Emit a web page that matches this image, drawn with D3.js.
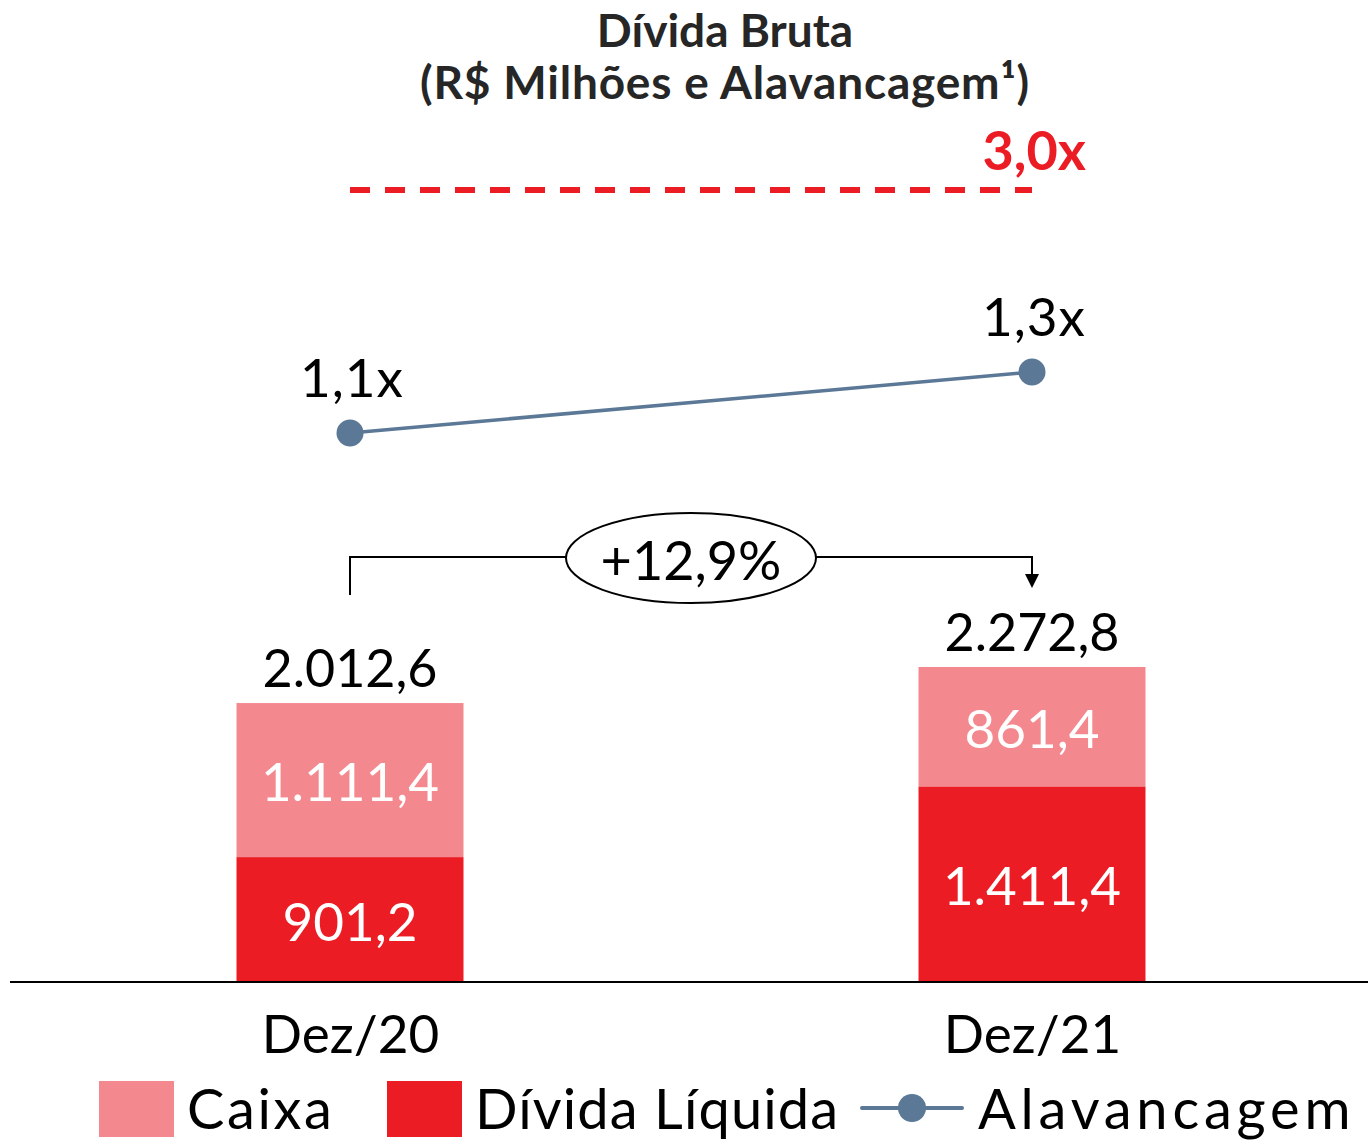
<!DOCTYPE html>
<html>
<head>
<meta charset="utf-8">
<script src="https://cdnjs.cloudflare.com/ajax/libs/d3/7.8.5/d3.min.js"></script>
<style>
    html, body { margin: 0; padding: 0; background: #fff; }
    svg { display: block; }
    text { font-family: Lato, "DejaVu Sans", sans-serif; }
</style>
</head>
<body>
<svg width="1368" height="1141"></svg>
<script>
// dados
var categorias = ['Dez/20', 'Dez/21'];
var caixa = [1111.4, 861.4];
var dividaLiquida = [901.2, 1411.4];
var dividaBruta = [2012.6, 2272.8];
var alavancagem = [1.1, 1.3];
var limiteCovenant = 3.0;
var variacao = '+12,9%';
var titulo = ['Dívida Bruta', '(R$ Milhões e Alavancagem¹)'];
var legenda = ['Caixa', 'Dívida Líquida', 'Alavancagem'];

var cores = { caixa: '#f3898e', divida: '#ec1c24', linha: '#5b7896', limite: '#ec1c24' };

var dom = {};
var state = {};

var br = d3.formatLocale({ decimal: ',', thousands: '.', grouping: [3], currency: ['R$', ''] });
var fmt = br.format(',.1f');

function initDom() {
    dom.svg = d3.select('svg');
    state.x = d3.scalePoint().domain(categorias).range([350, 1032]);
    state.y = d3.scaleLinear().domain([0, 2500]).range([982, 635.5]);
    // escala de alavancagem com quebra até o limite do covenant
    state.yAlav = d3.scaleLinear().domain([1.1, 1.3, 3.0]).range([433, 372, 190]);
    state.barWidth = 227;
}

function initialize() {
    initDom();
    drawTitle();
    drawBars();
    drawVariation();
    drawLeverage();
    drawAxis();
    drawLegend();
}

function drawTitle() {
    dom.svg.selectAll('.titulo')
            .data(titulo)
        .enter().append('text')
            .attr('x', 725)
            .attr('y', function(d, i) { return 47 + i * 52; })
            .attr('text-anchor', 'middle')
            .attr('font-size', 46)
            .attr('letter-spacing', function(d, i) { return i ? 0.8 : 0; })
            .attr('font-weight', 'bold')
            .attr('fill', '#262626')
            .text(function(d) { return d; });
}

function drawBars() {
    var x = state.x, y = state.y, w = state.barWidth;
    var dados = categorias.map(function(c, i) {
        return { cat: c, divida: dividaLiquida[i], caixa: caixa[i], total: dividaBruta[i] };
    });

    var g = dom.svg.append('g').selectAll('.barra')
            .data(dados)
        .enter().append('g')
            .classed('barra', true);

    g.append('rect')
        .attr('x', function(d) { return x(d.cat) - w / 2; })
        .attr('y', function(d) { return y(d.divida); })
        .attr('width', w)
        .attr('height', function(d) { return y(0) - y(d.divida); })
        .attr('fill', cores.divida);

    g.append('rect')
        .attr('x', function(d) { return x(d.cat) - w / 2; })
        .attr('y', function(d) { return y(d.divida + d.caixa); })
        .attr('width', w)
        .attr('height', function(d) { return y(d.divida) - y(d.divida + d.caixa); })
        .attr('fill', cores.caixa);

    g.append('text')
        .attr('x', function(d) { return x(d.cat); })
        .attr('y', function(d) { return (y(0) + y(d.divida)) / 2 + 21; })
        .attr('text-anchor', 'middle')
        .attr('font-size', 53)
        .attr('fill', '#fff')
        .text(function(d) { return fmt(d.divida); });

    g.append('text')
        .attr('x', function(d) { return x(d.cat); })
        .attr('y', function(d) { return (y(d.divida) + y(d.divida + d.caixa)) / 2 + 21; })
        .attr('text-anchor', 'middle')
        .attr('font-size', 53)
        .attr('fill', '#fff')
        .text(function(d) { return fmt(d.caixa); });

    g.append('text')
        .attr('x', function(d) { return x(d.cat); })
        .attr('y', function(d) { return y(d.total) - 16; })
        .attr('text-anchor', 'middle')
        .attr('font-size', 52)
        .attr('fill', '#000')
        .text(function(d) { return fmt(d.total); });
}

function drawVariation() {
    var x = state.x, y = state.y;
    var x0 = x(categorias[0]), x1 = x(categorias[1]);
    var top = 557, cx = (x0 + x1) / 2, rx = 125, ry = 45;

    dom.svg.append('path')
        .attr('d', 'M' + x0 + ',' + (y(dividaBruta[0]) - 108) + 'V' + top + 'H' + (cx - rx))
        .attr('fill', 'none').attr('stroke', '#000').attr('stroke-width', 2);
    dom.svg.append('path')
        .attr('d', 'M' + (cx + rx) + ',' + top + 'H' + x1 + 'V' + (y(dividaBruta[1]) - 93))
        .attr('fill', 'none').attr('stroke', '#000').attr('stroke-width', 2);
    var tip = y(dividaBruta[1]) - 79;
    dom.svg.append('path')
        .attr('d', 'M' + (x1 - 7) + ',' + (tip - 14) + 'L' + (x1 + 7) + ',' + (tip - 14) + 'L' + x1 + ',' + tip + 'Z')
        .attr('fill', '#000');

    dom.svg.append('ellipse')
        .attr('cx', cx).attr('cy', top + 1)
        .attr('rx', rx).attr('ry', ry)
        .attr('fill', '#fff').attr('stroke', '#000').attr('stroke-width', 2);
    dom.svg.append('text')
        .attr('x', cx)
        .attr('y', top + 23)
        .attr('text-anchor', 'middle')
        .attr('font-size', 54)
        .attr('fill', '#000')
        .text(variacao);
}

function drawLeverage() {
    var x = state.x, ya = state.yAlav;

    dom.svg.append('line')
        .attr('x1', x(categorias[0])).attr('x2', x(categorias[1]))
        .attr('y1', ya(limiteCovenant)).attr('y2', ya(limiteCovenant))
        .attr('stroke', cores.limite)
        .attr('stroke-width', 6)
        .attr('stroke-dasharray', '20,15');
    dom.svg.append('text')
        .attr('x', 1086)
        .attr('y', ya(limiteCovenant) - 20)
        .attr('text-anchor', 'end')
        .attr('font-family', '"Liberation Sans", Arial, sans-serif')
        .attr('font-weight', 'bold')
        .attr('font-size', 54)
        .attr('fill', cores.limite)
        .text(limiteCovenant.toFixed(1).replace('.', ',') + 'x');

    var pontos = categorias.map(function(c, i) { return { cat: c, v: alavancagem[i] }; });
    var linha = d3.line()
        .x(function(d) { return x(d.cat); })
        .y(function(d) { return ya(d.v); });

    dom.svg.append('path')
        .datum(pontos)
        .attr('d', linha)
        .attr('fill', 'none')
        .attr('stroke', cores.linha)
        .attr('stroke-width', 3.5);

    dom.svg.selectAll('.ponto')
            .data(pontos)
        .enter().append('circle')
            .attr('cx', function(d) { return x(d.cat); })
            .attr('cy', function(d) { return ya(d.v); })
            .attr('r', 13.5)
            .attr('fill', cores.linha);

    dom.svg.selectAll('.rotuloAlav')
            .data(pontos)
        .enter().append('text')
            .attr('x', function(d) { return x(d.cat) + 2; })
            .attr('y', function(d) { return ya(d.v) - 36; })
            .attr('text-anchor', 'middle')
            .attr('font-size', 53)
            .attr('letter-spacing', 1)
            .attr('fill', '#000')
            .text(function(d) { return d.v.toFixed(1).replace('.', ',') + 'x'; });
}

function drawAxis() {
    dom.svg.append('line')
        .attr('x1', 10).attr('x2', 1368)
        .attr('y1', state.y(0)).attr('y2', state.y(0))
        .attr('stroke', '#000').attr('stroke-width', 2);

    var eixo = d3.axisBottom(state.x).tickSize(0).tickPadding(0);
    var g = dom.svg.append('g')
        .attr('transform', 'translate(0,' + state.y(0) + ')')
        .call(eixo);
    g.select('.domain').remove();
    g.selectAll('text')
        .attr('dy', 0)
        .attr('y', 71)
        .attr('font-size', 53)
        .attr('font-family', 'Lato, "DejaVu Sans", sans-serif')
        .attr('fill', '#000');
}

function drawLegend() {
    var g = dom.svg.append('g');
    var itens = [
        { nome: legenda[0], tipo: 'rect', cor: cores.caixa, x: 99, esp: 2.6 },
        { nome: legenda[1], tipo: 'rect', cor: cores.divida, x: 387, esp: 1.1 },
        { nome: legenda[2], tipo: 'line', cor: cores.linha, x: 862, esp: 4.8 }
    ];

    itens.forEach(function(d) {
        if (d.tipo === 'rect') {
            g.append('rect')
                .attr('x', d.x).attr('y', 1081)
                .attr('width', 75).attr('height', 56)
                .attr('fill', d.cor);
        } else {
            g.append('line')
                .attr('x1', d.x).attr('x2', d.x + 100)
                .attr('y1', 1108).attr('y2', 1108)
                .attr('stroke', d.cor).attr('stroke-width', 4)
                .attr('stroke-linecap', 'round');
            g.append('circle')
                .attr('cx', d.x + 50).attr('cy', 1108).attr('r', 14)
                .attr('fill', d.cor);
        }
        g.append('text')
            .attr('x', d.x + (d.tipo === 'rect' ? 88 : 116)).attr('y', 1129)
            .attr('font-size', 56)
            .attr('letter-spacing', d.esp)
            .attr('fill', '#000')
            .text(d.nome);
    });
}

initialize();
</script>
</body>
</html>
